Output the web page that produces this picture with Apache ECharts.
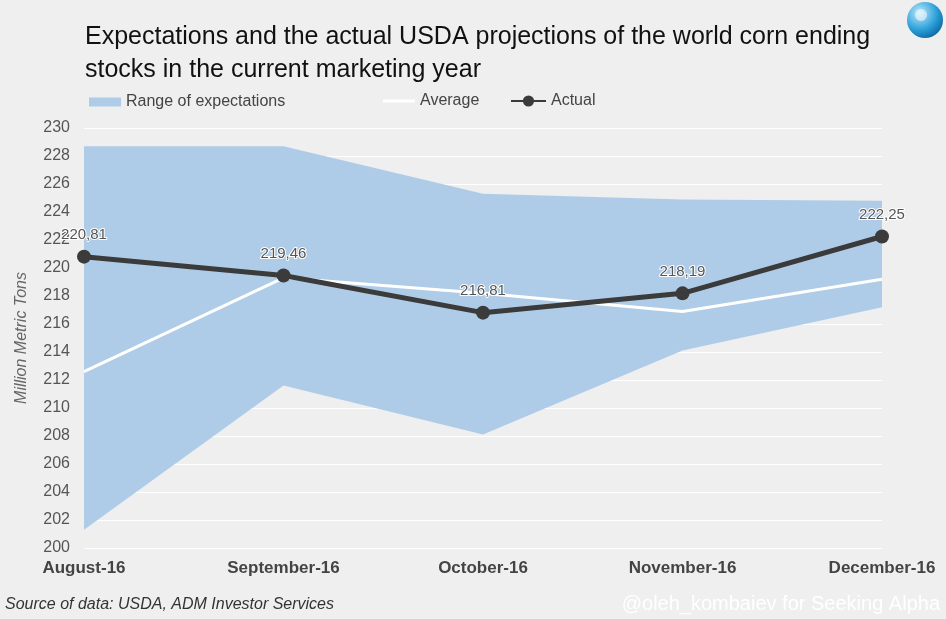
<!DOCTYPE html>
<html lang="en">

<head>
    <meta charset="UTF-8">
    <title>World corn ending stocks</title>
    <style>
        html, body { margin: 0; padding: 0; background: #efefef; }
        #main { width: 946px; height: 619px; }
    </style>
</head>

<body>
    <div id="main"></div>
</body>
<script src="https://cdn.jsdelivr.net/npm/echarts@6/dist/echarts.min.js"></script>
<script>
    const months = ['August-16', 'September-16', 'October-16', 'November-16', 'December-16']
    const rangeLow = [201.3, 211.6, 208.1, 214.1, 217.2]
    const rangeHigh = [228.7, 228.7, 225.3, 224.9, 224.8]
    const average = [212.6, 219.3, 218.2, 216.9, 219.2]
    const actual = [220.81, 219.46, 216.81, 218.19, 222.25]
    const yTicks = { min: 200, max: 230, step: 2 }

    const font = 'Liberation Sans, Arial, sans-serif'
    const chart = echarts.init(document.getElementById('main'))

    chart.setOption({
        backgroundColor: '#efefef',
        textStyle: { fontFamily: font },
        title: {
            text: 'Expectations and the actual USDA projections of the world corn ending\nstocks in the current marketing year',
            left: 80,
            top: 16,
            textStyle: { fontSize: 25, fontWeight: 'normal', color: '#111', lineHeight: 33 }
        },
        // three legends so each item can sit where the original puts it
        legend: [
            {
                data: [{ name: 'Range of expectations', icon: 'rect' }],
                left: 84, top: 89, itemWidth: 32, itemHeight: 9,
                textStyle: { fontSize: 16, color: '#444' }
            },
            {
                data: [{ name: 'Average', icon: 'rect' }],
                left: 378, top: 88, itemWidth: 32, itemHeight: 3,
                textStyle: { fontSize: 16, color: '#444' }
            },
            {
                data: ['Actual'],
                left: 505, top: 88, itemWidth: 35, itemHeight: 14,
                textStyle: { fontSize: 16, color: '#444' }
            }
        ],
        grid: { left: 84, right: 64, top: 128, bottom: 71, containLabel: false },
        xAxis: {
            type: 'category',
            data: months,
            boundaryGap: false,
            axisLine: { show: false },
            axisTick: { show: false },
            axisLabel: { fontSize: 17, fontWeight: 'bold', color: '#444', margin: 12 }
        },
        yAxis: {
            type: 'value',
            min: yTicks.min,
            max: yTicks.max,
            interval: yTicks.step,
            name: 'Million Metric Tons',
            nameLocation: 'middle',
            nameGap: 54,
            nameTextStyle: { fontSize: 16, fontStyle: 'italic', color: '#666' },
            axisLine: { show: false },
            axisTick: { show: false },
            axisLabel: { fontSize: 16, color: '#555', margin: 14 },
            splitLine: { lineStyle: { color: '#ffffff', width: 1 } }
        },
        graphic: [
            {
                type: 'text', left: 5, top: 597,
                style: { text: 'Source of data: USDA, ADM Investor Services', font: 'italic 16px ' + font, fill: '#333' }
            },
            {
                type: 'text', right: 6, top: 594,
                style: { text: '@oleh_kombaiev for Seeking Alpha', font: '20px ' + font, fill: '#ffffff' }
            },
            {
                type: 'circle', shape: { cx: 925, cy: 20, r: 18 },
                style: {
                    fill: new echarts.graphic.RadialGradient(0.35, 0.3, 0.8, [
                        { offset: 0, color: '#bfe8fb' },
                        { offset: 0.6, color: '#2a9fd8' },
                        { offset: 1, color: '#0b5f9a' }
                    ])
                }
            },
            {
                type: 'circle', shape: { cx: 921, cy: 15, r: 6 },
                style: { fill: 'rgba(255,255,255,0.55)' }
            }
        ],
        series: [
            {
                name: 'low',
                type: 'line',
                stack: 'band',
                data: rangeLow,
                symbol: 'none',
                lineStyle: { opacity: 0 },
                silent: true
            },
            {
                name: 'Range of expectations',
                type: 'line',
                stack: 'band',
                data: rangeHigh.map((v, i) => +(v - rangeLow[i]).toFixed(2)),
                symbol: 'none',
                color: '#aecce8',
                lineStyle: { width: 0 },
                areaStyle: { color: '#aecce8', opacity: 1 },
                silent: true
            },
            {
                name: 'Average',
                type: 'line',
                data: average,
                symbol: 'none',
                color: '#ffffff',
                lineStyle: { color: '#ffffff', width: 3 },
                z: 3
            },
            {
                name: 'Actual',
                type: 'line',
                data: actual,
                symbol: 'circle',
                symbolSize: 14,
                color: '#3b3b3b',
                lineStyle: { color: '#3b3b3b', width: 5 },
                label: {
                    show: true,
                    position: 'top',
                    distance: 7,
                    fontSize: 15,
                    color: '#555',
                    textBorderColor: '#ffffff',
                    textBorderWidth: 2,
                    formatter: p => p.value.toFixed(2).replace('.', ',')
                },
                z: 4
            }
        ]
    })
</script>

</html>
